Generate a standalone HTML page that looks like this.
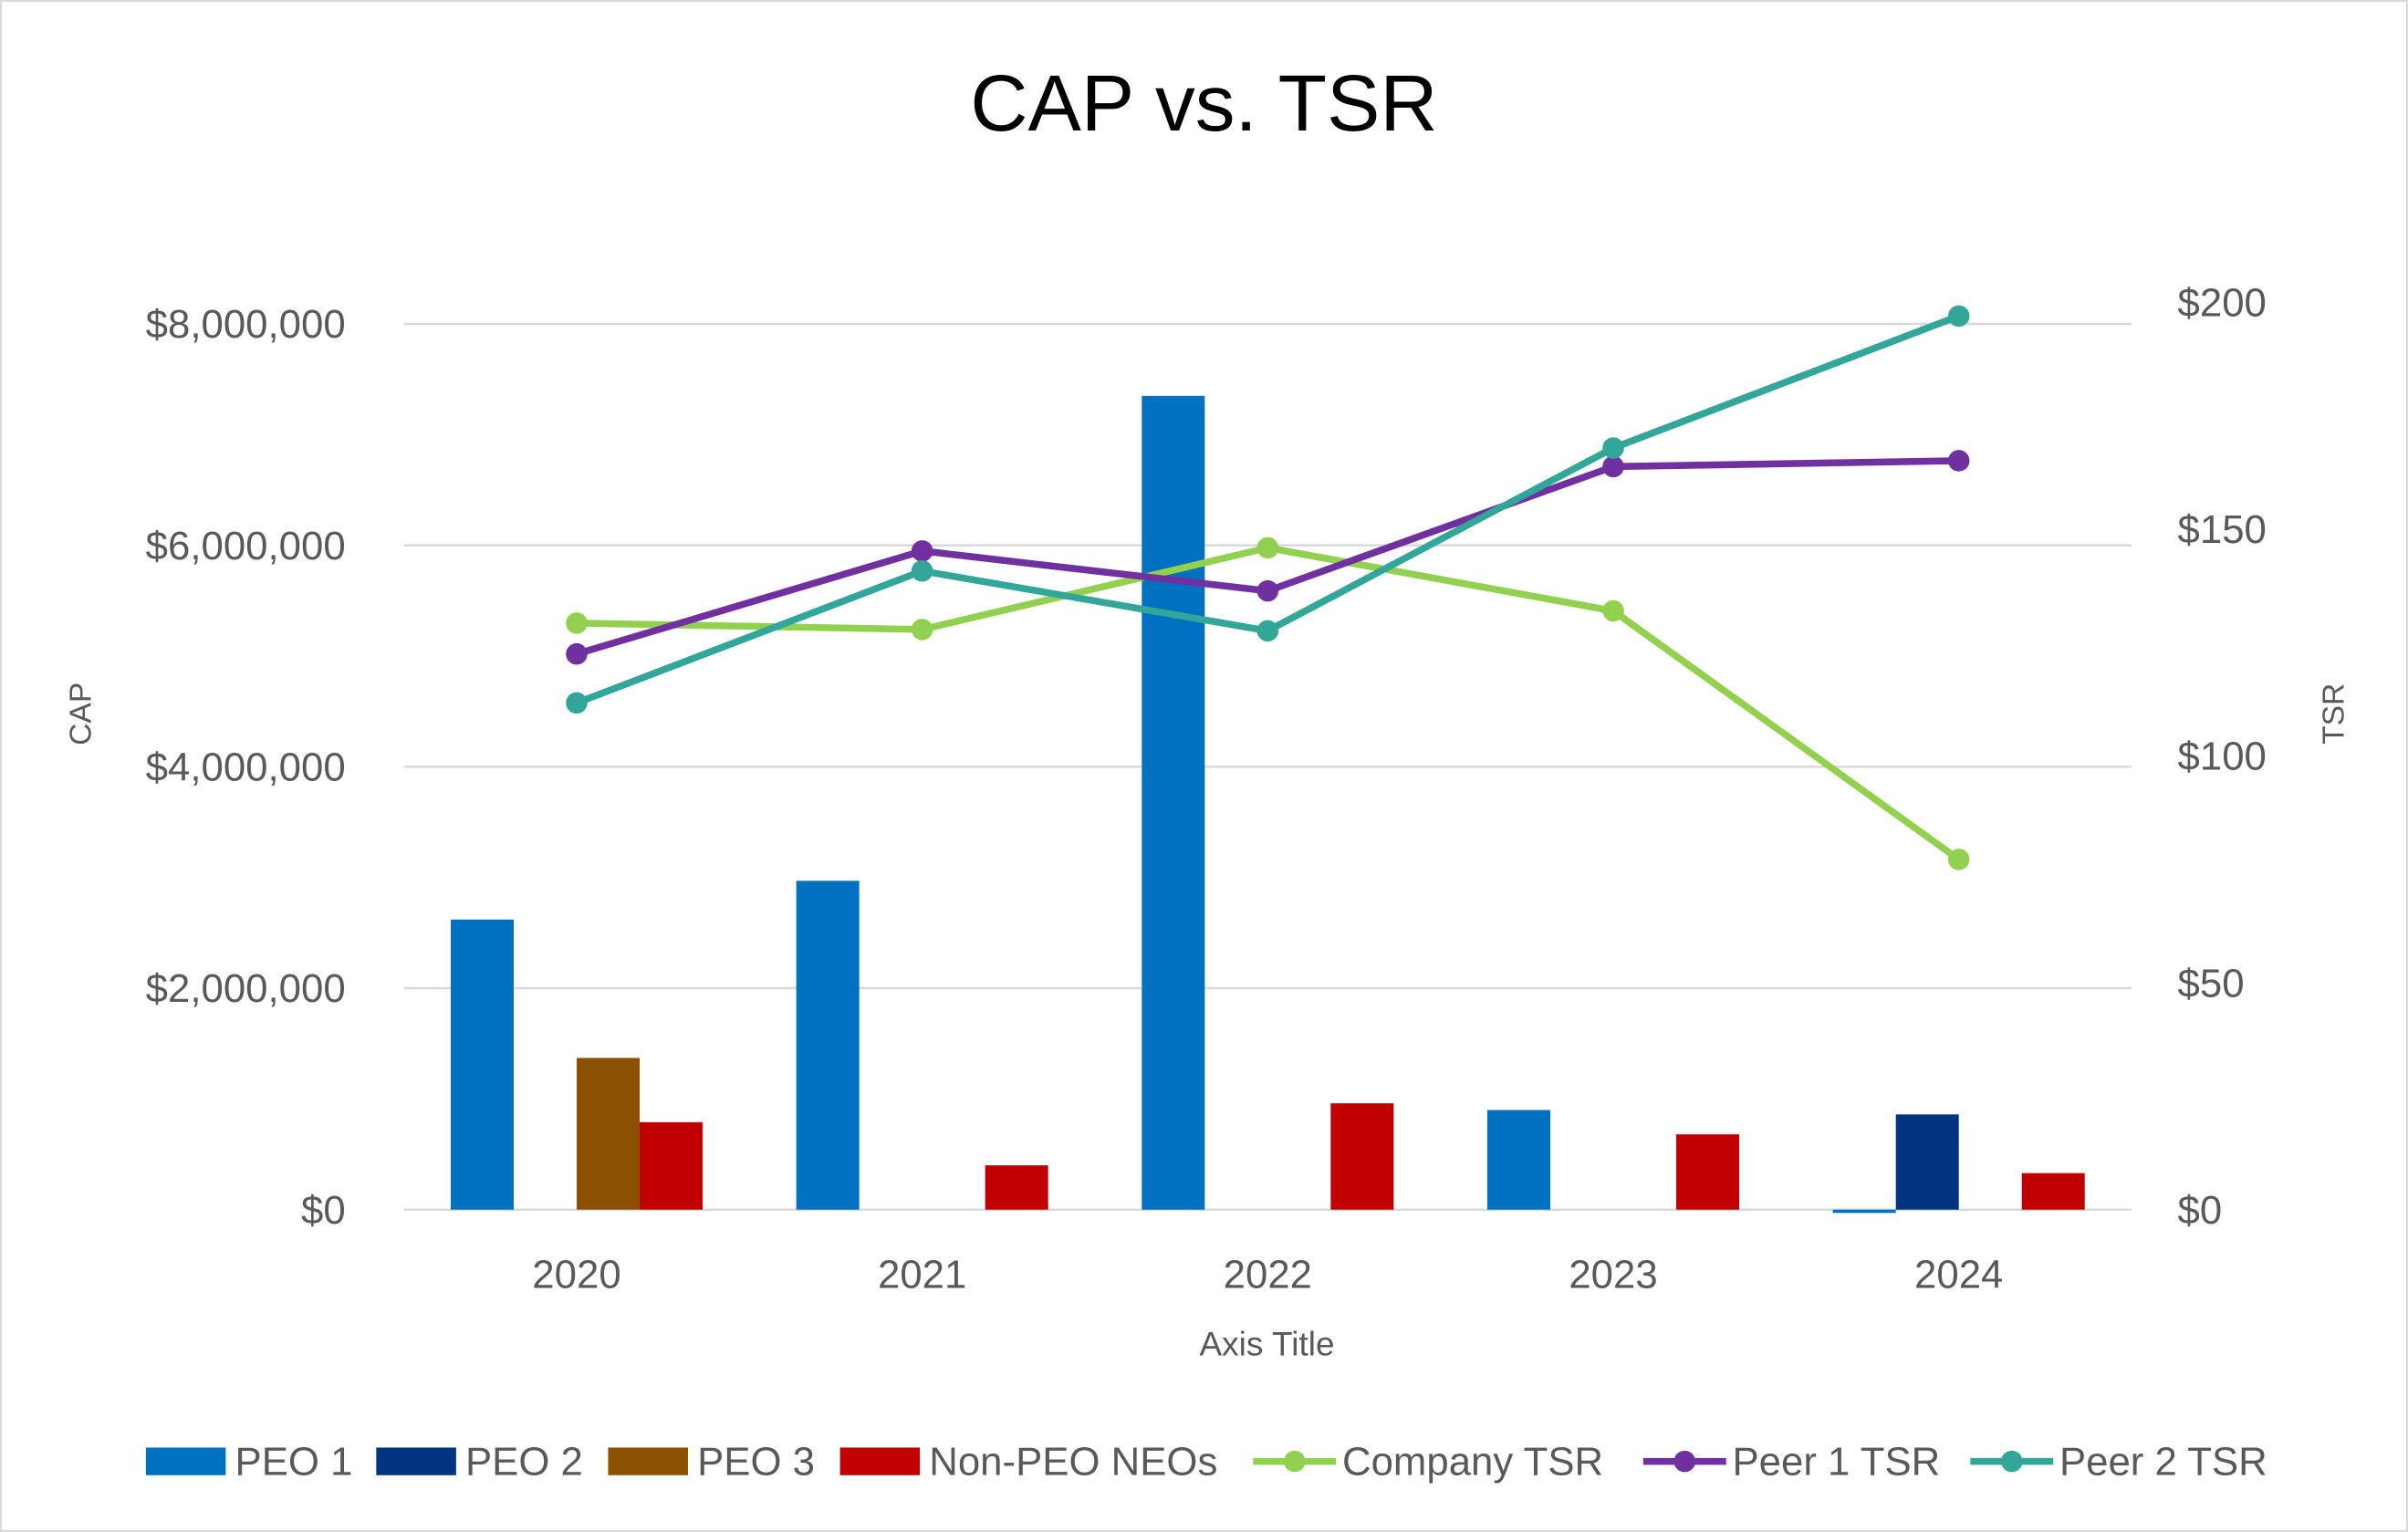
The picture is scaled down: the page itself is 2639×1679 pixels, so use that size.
<!DOCTYPE html>
<html><head><meta charset="utf-8">
<style>
html,body{margin:0;padding:0;background:#fff;}
svg{display:block;}
text{font-family:"Liberation Sans",sans-serif;fill:#595959;}
</style></head>
<body>
<svg id="chart" width="2639" height="1679" viewBox="0 0 1568 998" preserveAspectRatio="none" xmlns="http://www.w3.org/2000/svg">
<rect x="0.5" y="0.5" width="1567" height="997" fill="#fff" stroke="#d9d9d9" stroke-width="1.5"/>
<text x="784" y="85" text-anchor="middle" font-size="52" style="fill:#000">CAP vs. TSR</text>
<g id="grid"></g>
<g id="bars"></g>
<g id="lines"></g>
<g id="axes"></g>
<text transform="translate(59,465) rotate(-90)" text-anchor="middle" font-size="20">CAP</text>
<text transform="translate(1526,465) rotate(-90)" text-anchor="middle" font-size="20">TSR</text>
<text x="825" y="883" text-anchor="middle" font-size="22">Axis Title</text>
<g id="legend"></g>
</svg>
<script>
const categories = ["2020","2021","2022","2023","2024"];
const peo1 = [2620000, 2970000, 7350000, 900000, -30000];
const peo2 = [0, 0, 0, 0, 860000];
const peo3 = [1370000, 0, 0, 0, 0];
const nonPeo = [790000, 400000, 960000, 680000, 330000];
const companyTsr = [129.3, 127.9, 145.9, 132.0, 77.2];
const peer1Tsr = [122.5, 145.2, 136.4, 163.8, 165.1];
const peer2Tsr = [111.7, 140.8, 127.6, 167.9, 197.0];
const leftTicks = [0, 2000000, 4000000, 6000000, 8000000];
const leftTickLabels = ["$0","$2,000,000","$4,000,000","$6,000,000","$8,000,000"];
const rightTicks = [0, 50, 100, 150, 200];
const rightTickLabels = ["$0","$50","$100","$150","$200"];

const NS = "http://www.w3.org/2000/svg";
const X0 = 263, X1 = 1388, Y0 = 788;
const catW = (X1 - X0) / categories.length;
function xC(i){ return X0 + catW * (i + 0.5); }
function yL(v){ return Y0 - v * (577 / 8000000); }
function yR(v){ return Y0 - v * (591 / 200); }
function mk(tag, attrs, parent){
  const e = document.createElementNS(NS, tag);
  for (const k in attrs) e.setAttribute(k, attrs[k]);
  parent.appendChild(e);
  return e;
}
const grid = document.getElementById('grid');
const axes = document.getElementById('axes');
leftTicks.forEach((t, i) => {
  const l = mk('line', {x1:X0, x2:X1, y1:yL(t), y2:yL(t), stroke:'#d9d9d9', 'stroke-width':1.5}, grid);
  
  
  const tx = mk('text', {x:225, y:yL(t)+9, 'text-anchor':'end', 'font-size':26}, axes);
  tx.textContent = leftTickLabels[i];
  
  
});
rightTicks.forEach((t, i) => {
  const tx = mk('text', {x:1418, y:yR(t)+9, 'text-anchor':'start', 'font-size':26}, axes);
  tx.textContent = rightTickLabels[i];
  
  
});
categories.forEach((c, i) => {
  const tx = mk('text', {x:xC(i), y:839, 'text-anchor':'middle', 'font-size':26}, axes);
  tx.textContent = c;
  
  
});
const bars = document.getElementById('bars');
const barSeries = [[peo1,'#0070c0','bar-peo1'],[peo2,'#003380','bar-peo2'],[peo3,'#8b5000','bar-peo3'],[nonPeo,'#c00000','bar-non-peo']];
const bw = 41;
barSeries.forEach((s, si) => {
  s[0].forEach((v, i) => {
    if (v === 0) return;
    const x = xC(i) - 2*bw + si*bw;
    const y1 = yL(Math.max(v,0)), y2 = yL(Math.min(v,0));
    const r = mk('rect', {x:x, y:y1, width:bw, height:Math.max(y2-y1,1), fill:s[1]}, bars);
    
    
  });
});
const lines = document.getElementById('lines');
const lineSeries = [[companyTsr,'#92d050','company-tsr'],[peer1Tsr,'#7030a0','peer1-tsr'],[peer2Tsr,'#33a69a','peer2-tsr']];
lineSeries.forEach(s => {
  const pts = s[0].map((v,i) => xC(i)+','+yR(v)).join(' ');
  const pl = mk('polyline', {points:pts, fill:'none', stroke:s[1], 'stroke-width':4.5, 'stroke-linejoin':'round'}, lines);
  
  
  s[0].forEach((v,i) => {
    const c = mk('circle', {cx:xC(i), cy:yR(v), r:7, fill:s[1]}, lines);
    
    
  });
});
const legend = document.getElementById('legend');
const leg = [
  ['box','#0070c0','PEO 1',95],['box','#003380','PEO 2',245],['box','#8b5000','PEO 3',396],['box','#c00000','Non-PEO NEOs',547],
  ['line','#92d050','Company TSR',816],['line','#7030a0','Peer 1 TSR',1070],['line','#33a69a','Peer 2 TSR',1283]
];
leg.forEach(e => {
  const g = mk('g', {}, legend);
  
  
  if (e[0] === 'box') {
    mk('rect', {x:e[3], y:943, width:52, height:18, fill:e[1]}, g);
  } else {
    mk('line', {x1:e[3], x2:e[3]+54, y1:952, y2:952, stroke:e[1], 'stroke-width':4.5}, g);
    mk('circle', {cx:e[3]+27, cy:952, r:7, fill:e[1]}, g);
  }
  const t = mk('text', {x:e[3]+58, y:961, 'font-size':26}, g);
  t.textContent = e[2];
});
</script>
</body></html>
